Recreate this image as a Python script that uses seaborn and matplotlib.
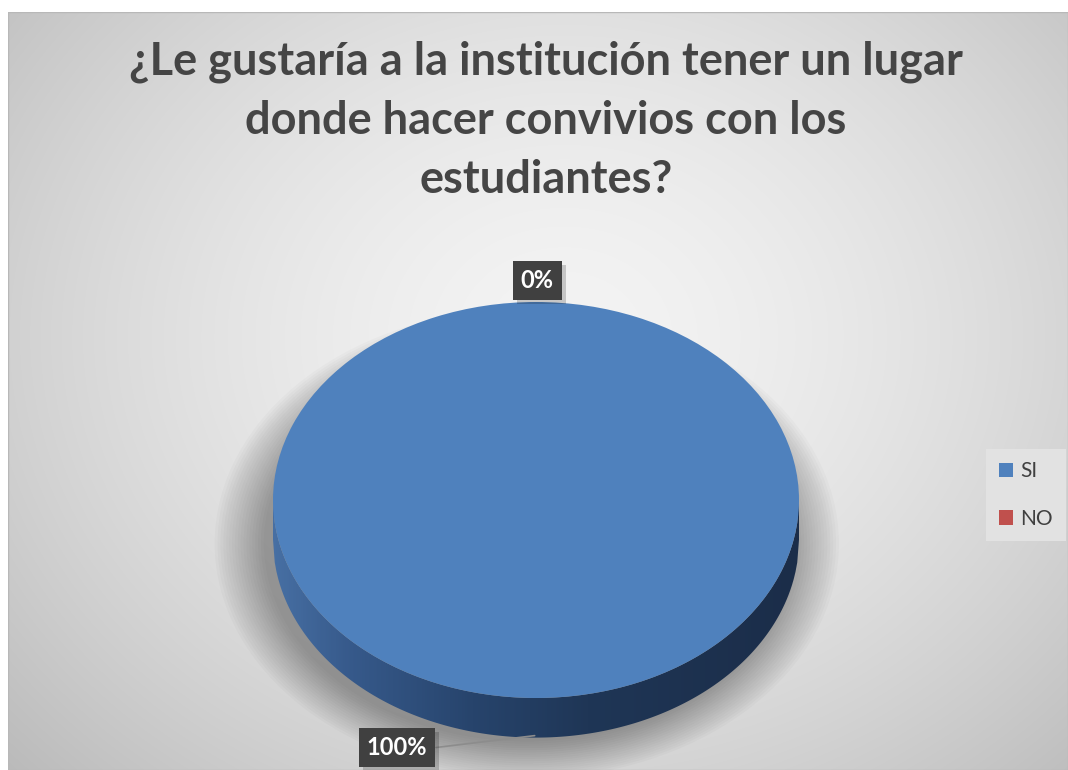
import numpy as np
import matplotlib.pyplot as plt
import seaborn as sns
import matplotlib.patheffects as pe
from matplotlib.colors import LinearSegmentedColormap
from matplotlib.patches import Ellipse, Polygon, Rectangle

# data
title = "¿Le gustaría a la institución tener un lugar\ndonde hacer convivios con los\nestudiantes?"
categories = ["SI", "NO"]
values = [100, 0]
colors = ["#4f81bd", "#c0504d"]

sns.set_theme(style="white")
plt.rcParams['font.family'] = ['Lato', 'DejaVu Sans']

fig = plt.figure(figsize=(10.68, 7.70), dpi=100)
W, H = 1068, 770

# background gradient (chart area)
bg = fig.add_axes([0, 0, 1, 1])
bg.set_xlim(0, W)
bg.set_ylim(H, 0)
bg.axis('off')
yy, xx = np.mgrid[0:H, 0:W]
r = np.sqrt(((xx - 560) / 620.0) ** 2 + ((yy - 330) / 520.0) ** 2)
g = np.clip(0.955 - 0.16 * r ** 1.6, 0, 1)
img = np.dstack([g, g, g])
bg.imshow(img, extent=[8, W, H, 12], origin='upper', aspect='auto', zorder=0)
bg.add_patch(Rectangle((8, 12), W - 8, H - 12, fill=False, edgecolor='#b8b8b8', lw=1, zorder=1))
bg.add_patch(Rectangle((0, 0), W, 12, facecolor='white', edgecolor='none', zorder=1))
bg.add_patch(Rectangle((0, 0), 8, H, facecolor='white', edgecolor='none', zorder=1))

fig.text(0.511, 0.947, title, ha='center', va='top', fontsize=32.5, fontweight='bold',
         color='#454545', linespacing=1.5)

# pie axes: top face center (536, 500), rx 263, ry 198
rx, ry = 263, 198
cx, cy = 536, 500
lim = 1.4
aw, ah = 2 * lim * rx, 2 * lim * ry
ax = fig.add_axes([(cx - aw / 2) / W, (H - cy - ah / 2) / H, aw / W, ah / H])
ax.patch.set_alpha(0)

# soft shadow, mostly to the lower left
for k in range(18):
    s = 1.0 + 0.011 * k
    ax.add_patch(Ellipse((-0.035, -0.22), 2 * s, 2 * s * 1.0, facecolor='black',
                         edgecolor='none', alpha=0.02, zorder=1, clip_on=False))

# side of the 3D disc
depth = 0.2
xs = np.linspace(-1, 1, 300)
top = -np.sqrt(1 - xs ** 2)
verts = np.concatenate([np.column_stack([xs, top]), np.column_stack([xs[::-1], top[::-1] - depth])])
side = Polygon(verts, closed=True, facecolor='none', edgecolor='none', zorder=2)
ax.add_patch(side)
side_cmap = LinearSegmentedColormap.from_list(
    'side', [(0, '#476fa3'), (0.15, '#36598a'), (0.38, '#27446c'), (0.6, '#1f3656'), (1, '#1b2d49')])
grad = np.linspace(0, 1, 300).reshape(1, -1)
im = ax.imshow(grad, cmap=side_cmap, extent=[-1, 1, -1 - depth, 0], aspect='auto', zorder=2)
im.set_clip_path(side)

wedges, _ = ax.pie(values, colors=colors, startangle=90, counterclock=False,
                   wedgeprops=dict(linewidth=0))
for w in wedges:
    w.set_zorder(3)
ax.set_aspect('auto')
ax.set_xlim(-lim, lim)
ax.set_ylim(-lim, lim)
ax.axis('off')

total = sum(values)
pct = [f"{v / total:.0%}" for v in values]
box = dict(boxstyle='square,pad=0.33', facecolor='#404040', edgecolor='none', lw=0)
shadow_fx = [pe.SimplePatchShadow(offset=(3, -3), shadow_rgbFace='black', alpha=0.18), pe.Normal()]

# "NO" label above the disc
t0 = ax.text(0.005, 1.11, pct[1], ha='center', va='center', fontsize=17,
             fontweight='bold', color='white', bbox=box, zorder=6)
# "SI" label bottom-left with leader line
ax.plot([-0.38, -0.005], [-1.25, -1.19], color='#8c8c8c', lw=1.2, zorder=5, clip_on=False)
t1 = ax.text(-0.528, -1.25, pct[0], ha='center', va='center', fontsize=17,
             fontweight='bold', color='white', bbox=box, zorder=6, clip_on=False)
for t in (t0, t1):
    t.get_bbox_patch().set_path_effects(shadow_fx)

leg = fig.legend(wedges, categories, loc='center', bbox_to_anchor=(1026 / W, 1 - 495 / H),
                 frameon=True, fancybox=False, facecolor='#e2e2e2', edgecolor='none',
                 framealpha=1, fontsize=15, labelspacing=1.3, handlelength=0.7,
                 handleheight=0.7, handletextpad=0.35, borderpad=0.6, borderaxespad=0)
for t in leg.get_texts():
    t.set_color('#404040')

fig.savefig('out.png', dpi=100)
